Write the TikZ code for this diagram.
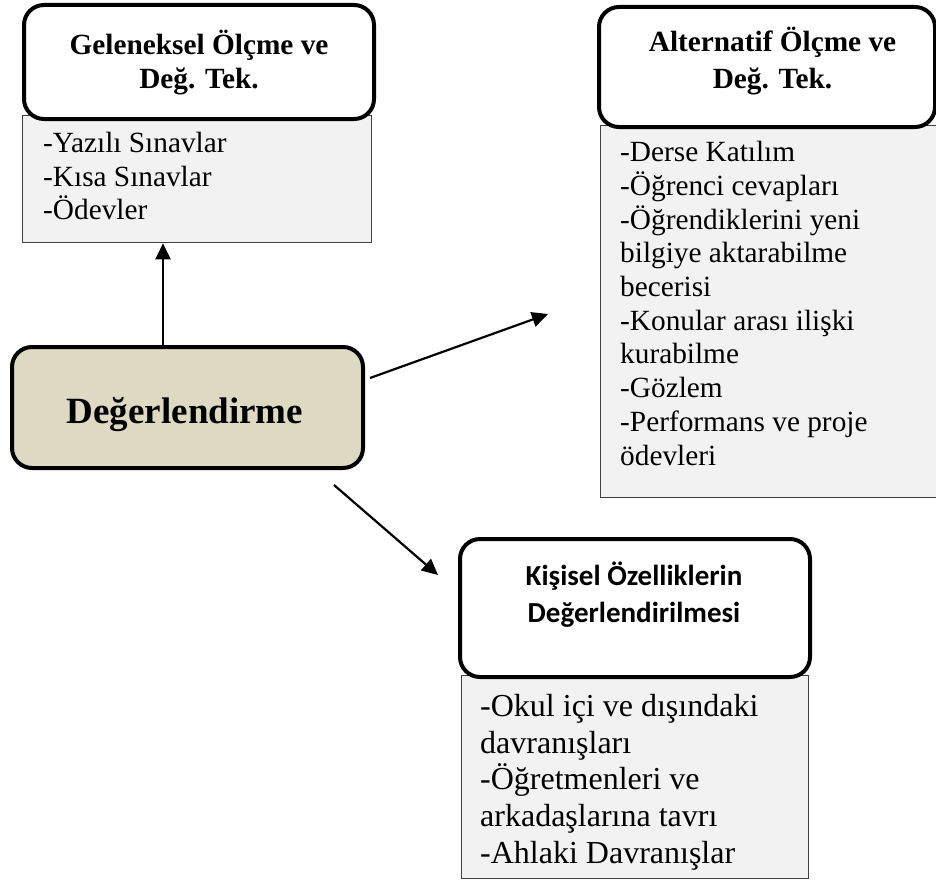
\documentclass[tikz,border=0pt]{standalone}
\usepackage{fontspec}
\setmainfont{Liberation Serif}
\newfontfamily\calibri{Carlito}
\usetikzlibrary{arrows.meta}

\definecolor{listgray}{HTML}{F2F2F2}
\definecolor{listedge}{HTML}{404040}
\definecolor{maintan}{HTML}{DDD9C3}

\tikzset{
  headbox/.style={draw=black, line width=4pt, rounded corners=20pt, fill=white,
                  anchor=north west, inner sep=0pt},
  listbox/.style={draw=listedge, line width=1.3pt, fill=listgray,
                  anchor=north west, inner sep=0pt},
  mainbox/.style={draw=black, line width=4pt, rounded corners=20pt, fill=maintan,
                  anchor=north west, inner sep=0pt},
  headtext/.style={inner sep=0pt, anchor=base},
  listtext/.style={inner sep=0pt, anchor=base west},
  arr/.style={line width=2.2pt, -{Triangle[length=16pt,width=15pt]}},
}

\begin{document}
\begin{tikzpicture}[x=1pt, y=-1pt]
\useasboundingbox (0,0) rectangle (936,883);
\fill[white] (0,0) rectangle (936,883);
\begin{scope}
\clip (0,0) rectangle (936,883);

% list panels
\node[listbox, minimum width=349pt, minimum height=127pt] (tlList) at (22,115) {};
\node[listbox, minimum width=360pt, minimum height=372pt] (trList) at (600,125) {};
\node[listbox, minimum width=347pt, minimum height=203pt] (bList) at (461,675) {};

% header boxes
\node[headbox, minimum width=350pt, minimum height=114pt] (tlHead) at (22,3) {};
\node[headbox, minimum width=336pt, minimum height=120pt] (trHead) at (597,5) {};
\node[headbox, minimum width=350pt, minimum height=138pt] (bHead) at (458,537) {};

% central box
\node[mainbox, minimum width=351pt, minimum height=121pt] (main) at (10,345) {};

% header texts
\node[headtext] (tlHeadTxt) at (199,55)
  {\parbox[t]{400pt}{\centering\bfseries\fontsize{29.3}{33.3}\selectfont
   Geleneksel Ölçme ve\\Değ. Tek.}};
\node[headtext] (trHeadTxt) at (772.5,51.7)
  {\parbox[t]{400pt}{\centering\bfseries\fontsize{29.3}{36.6}\selectfont
   Alternatif Ölçme ve\\Değ. Tek.}};
\node[headtext] (bHeadTxt) at (634,585)
  {\parbox[t]{400pt}{\centering\calibri\bfseries\fontsize{29}{37.5}\selectfont
   Kişisel Özelliklerin\\Değerlendirilmesi}};
\node[headtext] (mainTxt) at (185,423)
  {\bfseries\fontsize{37}{44}\selectfont Değerlendirme};

% list texts
\node[listtext] (tlListTxt) at (43,152.7)
  {\parbox[t]{400pt}{\fontsize{29.3}{33.6}\selectfont
   -Yazılı Sınavlar\\-Kısa Sınavlar\\-Ödevler}};
\node[listtext] (trListTxt) at (620,161.7)
  {\parbox[t]{400pt}{\fontsize{29.3}{33.7}\selectfont
   -Derse Katılım\\-Öğrenci cevapları\\-Öğrendiklerini yeni\\bilgiye aktarabilme\\becerisi\\
   -Konular arası ilişki\\kurabilme\\-Gözlem\\-Performans ve proje\\ödevleri}};
\node[listtext] (bListTxt) at (480,716.7)
  {\parbox[t]{400pt}{\fontsize{32}{36.6}\selectfont
   -Okul içi ve dışındaki\\davranışları\\-Öğretmenleri ve\\arkadaşlarına tavrı\\-Ahlaki Davranışlar}};

% connectors
\coordinate (vx) at (163,0);
\draw[arr] (vx |- main.north) -- (vx |- tlList.south);

\coordinate (rStart) at (370,378);
\coordinate (rEnd) at (548,314);
\draw[arr] (rStart) -- (rEnd);

\coordinate (dStart) at (334,485);
\coordinate (dEnd) at (438,575);
\draw[arr] (dStart) -- (dEnd);
\end{scope}
\end{tikzpicture}
\end{document}
